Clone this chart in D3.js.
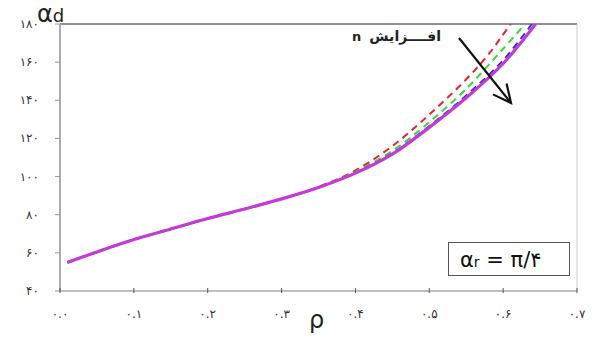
<!DOCTYPE html>
<html>
<head>
<meta charset="utf-8">
<script src="https://cdn.jsdelivr.net/npm/d3@7"></script>
<style>
  body { margin: 0; background: #fff; }
  text { font-family: "DejaVu Sans", sans-serif; }
</style>
</head>
<body>
<div id="chart"></div>
<script>
// alpha_d versus rho for increasing n (alpha_r = pi/4)

const rhoBase = [0.01, 0.05, 0.1, 0.15, 0.2, 0.25, 0.3];
const alphaBase = [55, 60.5, 67, 72.5, 78, 83, 88.3];

const rhoRed = [0.35, 0.4, 0.45, 0.5, 0.55, 0.58, 0.61];
const alphaRed = [94.6, 103.2, 116, 132.5, 151, 164, 180];

const rhoGreen = [0.35, 0.4, 0.45, 0.5, 0.55, 0.6, 0.63];
const alphaGreen = [94.4, 102.5, 113.5, 128.5, 146, 167, 180];

const rhoBlue = [0.35, 0.4, 0.45, 0.5, 0.55, 0.6, 0.639];
const alphaBlue = [94.3, 102, 112.3, 126.5, 142.5, 161, 180];

const rhoMagenta = [0.35, 0.4, 0.45, 0.5, 0.55, 0.6, 0.644];
const alphaMagenta = [94.3, 101.8, 111.8, 125.8, 141.3, 159.3, 180];

const xTicks = [0, 0.1, 0.2, 0.3, 0.4, 0.5, 0.6, 0.7];
const xTickLabels = ["۰.۰", "۰.۱", "۰.۲", "۰.۳", "۰.۴", "۰.۵", "۰.۶", "۰.۷"];
const yTicks = [40, 60, 80, 100, 120, 140, 160, 180];
const yTickLabels = ["۴۰", "۶۰", "۸۰", "۱۰۰", "۱۲۰", "۱۴۰", "۱۶۰", "۱۸۰"];

function drawChart() {
    const width = 595, height = 340;
    const svg = d3.select("#chart").append("svg")
        .attr("width", width)
        .attr("height", height);

    const x = d3.scaleLinear().domain([0, 0.7]).range([60, 577]);
    const y = d3.scaleLinear().domain([40, 180]).range([291, 24]);

    svg.append("defs").append("clipPath").attr("id", "plot")
        .append("rect")
        .attr("x", x(0)).attr("y", y(180))
        .attr("width", x(0.7) - x(0)).attr("height", y(40) - y(180));

    // frame: top black, right light grey
    svg.append("line")
        .attr("x1", x(0)).attr("x2", x(0.7))
        .attr("y1", y(180)).attr("y2", y(180))
        .attr("stroke", "#222").attr("stroke-width", 1);
    svg.append("line")
        .attr("x1", x(0.7)).attr("x2", x(0.7))
        .attr("y1", y(180)).attr("y2", y(40))
        .attr("stroke", "#ccc").attr("stroke-width", 1);

    // left axis
    svg.append("line")
        .attr("x1", x(0)).attr("x2", x(0))
        .attr("y1", y(180)).attr("y2", y(40))
        .attr("stroke", "#aaa").attr("stroke-width", 2);
    svg.selectAll(".ytick").data(yTicks).enter().append("line")
        .attr("x1", x(0) - 5).attr("x2", x(0))
        .attr("y1", d => y(d)).attr("y2", d => y(d))
        .attr("stroke", "#999");
    svg.selectAll(".ylab").data(yTicks).enter().append("text")
        .attr("x", 39).attr("y", d => y(d) + 4)
        .attr("text-anchor", "end")
        .style("font-size", "12px")
        .style("letter-spacing", "1.5px")
        .attr("fill", "#333")
        .text((d, i) => yTickLabels[i]);

    // bottom axis
    svg.append("line")
        .attr("x1", x(0)).attr("x2", x(0.7))
        .attr("y1", y(40)).attr("y2", y(40))
        .attr("stroke", "#aaa").attr("stroke-width", 1.5);
    svg.selectAll(".xtick").data(xTicks).enter().append("line")
        .attr("x1", d => x(d)).attr("x2", d => x(d))
        .attr("y1", y(40) - 3).attr("y2", y(40) + 2)
        .attr("stroke", "#555");
    svg.selectAll(".xlab").data(xTicks).enter().append("text")
        .attr("x", d => x(d)).attr("y", 318)
        .attr("text-anchor", "middle")
        .style("font-size", "12px")
        .style("letter-spacing", "3px")
        .attr("fill", "#333")
        .text((d, i) => xTickLabels[i]);

    // curves (magenta solid drawn last, on top)
    const line = d3.line()
        .x(d => x(d[0]))
        .y(d => y(d[1]))
        .curve(d3.curveCatmullRom.alpha(0.5));

    const series = [
        { rho: rhoRed, alpha: alphaRed, color: "#e8222a", dash: "7,5", w: 2 },
        { rho: rhoGreen, alpha: alphaGreen, color: "#3ad63a", dash: "7,5", w: 2 },
        { rho: rhoBlue, alpha: alphaBlue, color: "#3030d8", dash: "7,5", w: 2 },
        { rho: rhoMagenta, alpha: alphaMagenta, color: "#c43ad6", dash: null, w: 3.2 }
    ];

    const g = svg.append("g").attr("clip-path", "url(#plot)");
    series.forEach(s => {
        const pts = rhoBase.map((r, i) => [r, alphaBase[i]])
            .concat(s.rho.map((r, i) => [r, s.alpha[i]]));
        g.append("path")
            .datum(pts)
            .attr("d", line)
            .attr("fill", "none")
            .attr("stroke", s.color)
            .attr("stroke-width", s.w)
            .attr("stroke-dasharray", s.dash);
    });

    // arrow
    const ax1 = 459, ay1 = 38, ax2 = 511, ay2 = 103;
    const ang = Math.atan2(ay2 - ay1, ax2 - ax1);
    const hl = 20, ha = 0.45;
    svg.append("line")
        .attr("x1", ax1).attr("y1", ay1).attr("x2", ax2).attr("y2", ay2)
        .attr("stroke", "#111").attr("stroke-width", 2.2);
    svg.append("path")
        .attr("d", `M${ax2 - hl * Math.cos(ang - ha)},${ay2 - hl * Math.sin(ang - ha)}L${ax2},${ay2}L${ax2 - hl * Math.cos(ang + ha)},${ay2 - hl * Math.sin(ang + ha)}`)
        .attr("fill", "none").attr("stroke", "#111").attr("stroke-width", 2.2);

    svg.append("text")
        .attr("x", 441).attr("y", 41)
        .attr("text-anchor", "end")
        .style("font-size", "14px").style("font-weight", "bold")
        .attr("fill", "#222")
        .text("افــــزایش");
    svg.append("text")
        .attr("x", 352).attr("y", 41)
        .style("font-size", "13px").style("font-weight", "bold")
        .attr("fill", "#222")
        .text("n");

    // label box
    svg.append("rect")
        .attr("x", 448.5).attr("y", 242.5)
        .attr("width", 121).attr("height", 33)
        .attr("fill", "#fff").attr("stroke", "#555").attr("stroke-width", 1);
    const lab = svg.append("text").attr("x", 460).attr("y", 267)
        .style("font-size", "21px").attr("fill", "#111");
    lab.append("tspan").text("α");
    lab.append("tspan").style("font-size", "14px").text("r");
    lab.append("tspan").text(" = π/۴");

    // axis titles
    const yt = svg.append("text").attr("x", 37).attr("y", 22)
        .attr("fill", "#222");
    yt.append("tspan").style("font-size", "24px").text("α");
    yt.append("tspan").style("font-size", "18px").text("d");

    svg.append("text")
        .attr("x", 309).attr("y", 328)
        .style("font-size", "24px").attr("fill", "#222")
        .text("ρ");
}

drawChart();
</script>
</body>
</html>
